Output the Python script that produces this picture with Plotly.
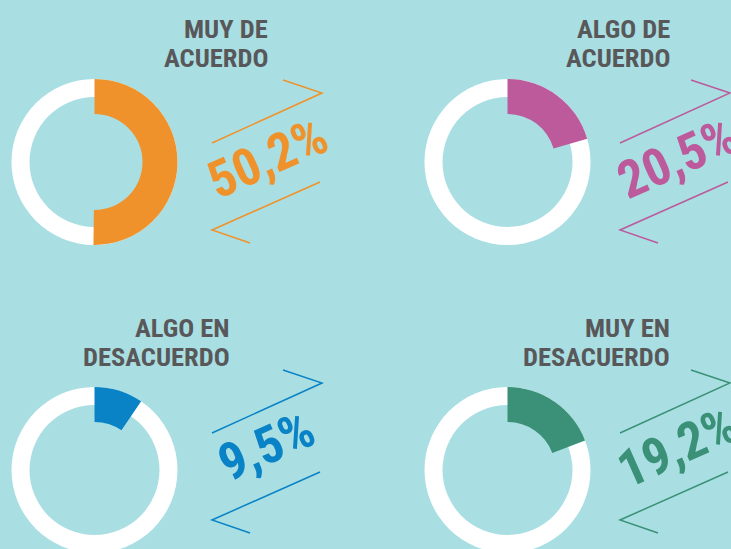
import plotly.graph_objects as go

# ---- data ----
categories = ["MUY DE<br>ACUERDO", "ALGO DE<br>ACUERDO", "ALGO EN<br>DESACUERDO", "MUY EN<br>DESACUERDO"]
values = [50.2, 20.5, 9.5, 19.2]
value_labels = ["50,2%", "20,5%", "9,5%", "19,2%"]
colors = ["#F0922B", "#BC5A9C", "#0A83C6", "#3B9177"]

W, H = 731, 560   # page shows top 549 px, bottom donuts are cut like the reference
BG = "#A9DFE3"
R = 83  # outer radius px
FONT = "Roboto Condensed, Roboto, Liberation Sans, sans-serif"

# panel layout (px): donut centre, label right edge, percent centre, chevron origin
panels = [
    dict(cx=94.5, cy=162, lab_x=270, lab_y=28, px=267, py=158, ox=0, oy=0),
    dict(cx=507.5, cy=162, lab_x=672, lab_y=28, px=677, py=158, ox=408, oy=0),
    dict(cx=94.5, cy=470, lab_x=232, lab_y=327, px=266, py=446, ox=0, oy=290),
    dict(cx=507.5, cy=470, lab_x=672, lab_y=327, px=677, py=447, ox=408, oy=290),
]

fig = go.Figure()
shapes = []
annotations = []

for i, p in enumerate(panels):
    dom_x = [(p["cx"] - R) / W, (p["cx"] + R) / W]
    dom_y = [1 - (p["cy"] + R) / H, 1 - (p["cy"] - R) / H]
    dom_y = [max(0, dom_y[0]), min(1, dom_y[1])]
    # white full ring
    fig.add_trace(go.Pie(values=[1], labels=["total"], hole=65 / 83, sort=False,
                         marker=dict(colors=["white"], line=dict(width=0)),
                         textinfo="none", hoverinfo="skip", showlegend=False,
                         domain=dict(x=dom_x, y=dom_y)))
    # coloured segment
    fig.add_trace(go.Pie(values=[values[i], 100 - values[i]], labels=["v", "rest"],
                         hole=48 / 83, sort=False, direction="clockwise", rotation=0,
                         marker=dict(colors=[colors[i], "rgba(0,0,0,0)"], line=dict(width=0)),
                         textinfo="none", hoverinfo="skip", showlegend=False,
                         domain=dict(x=dom_x, y=dom_y)))
    # label lines
    lines = categories[i].split("<br>")
    for j, ln in enumerate(lines):
        annotations.append(dict(x=p["lab_x"], y=p["lab_y"] + j * 29, xref="x", yref="y",
                                text=ln, showarrow=False, xanchor="right", yanchor="middle",
                                font=dict(family=FONT, size=26.5, color="#58585A", weight="bold")))
    # percent text
    annotations.append(dict(x=p["px"], y=p["py"], xref="x", yref="y", text=value_labels[i],
                            showarrow=False, textangle=-24, xanchor="center", yanchor="middle",
                            font=dict(family=FONT, size=52, color=colors[i], weight="bold")))
    ox, oy = p["ox"], p["oy"]
    top = f"M {283+ox} {80+oy} L {322+ox} {93+oy} L {212+ox} {143+oy}"
    bot = f"M {320+ox} {182+oy} L {212+ox} {230+oy} L {250+ox} {243+oy}"
    for path in (top, bot):
        shapes.append(dict(type="path", path=path, xref="x", yref="y",
                           line=dict(color=colors[i], width=1.5), layer="above"))

fig.update_layout(
    width=W, height=H, margin=dict(l=0, r=0, t=0, b=0),
    paper_bgcolor=BG, plot_bgcolor="rgba(0,0,0,0)",
    xaxis=dict(range=[0, W], visible=False, fixedrange=True),
    yaxis=dict(range=[H, 0], visible=False, fixedrange=True),
    shapes=shapes, annotations=annotations, showlegend=False,
)

fig.write_html("out.html", config=dict(displayModeBar=False),
               post_script="document.body.style.margin='0px';document.body.style.overflow='hidden';")
